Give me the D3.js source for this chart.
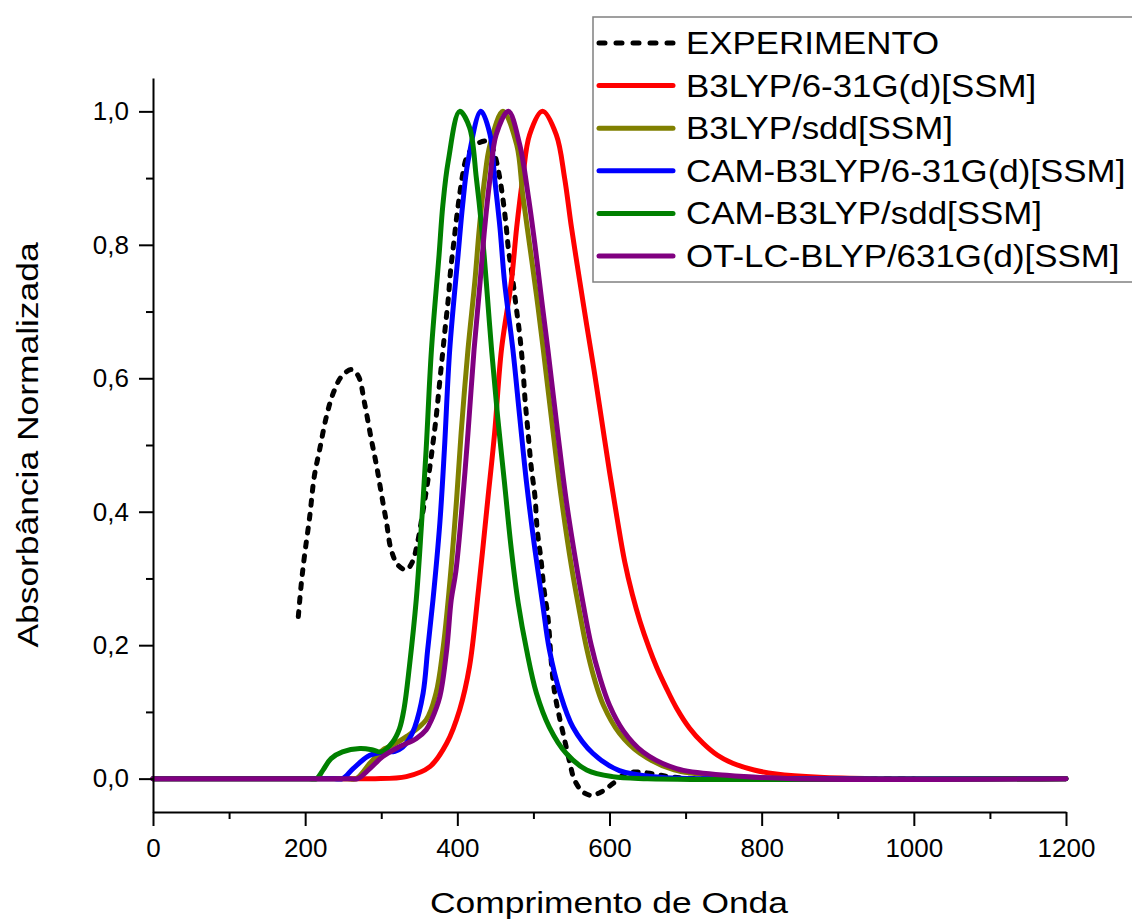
<!DOCTYPE html>
<html>
<head>
<meta charset="utf-8">
<script src="https://cdn.jsdelivr.net/npm/d3@7"></script>
<style>
  html, body { margin: 0; padding: 0; background: #fff; }
  svg { display: block; }
  text { font-family: Arial, 'Liberation Sans', sans-serif; fill: #000; }
</style>
</head>
<body>
<div id="chart"></div>
<script>
// ── Data ────────────────────────────────────────────────────
const xMajorTicks = [0, 200, 400, 600, 800, 1000, 1200];
const xMinorTicks = [100, 300, 500, 700, 900, 1100];
const yMajorTicks = [0, 0.2, 0.4, 0.6, 0.8, 1.0];
const yMinorTicks = [0.1, 0.3, 0.5, 0.7, 0.9];

// [wavelength, normalised absorbance]
const experimento = [
  [191, 0.243], [195, 0.293], [199, 0.333], [206, 0.393], [212, 0.453], [219, 0.493],
  [228, 0.543], [237, 0.578], [248, 0.603], [261, 0.613], [270, 0.603], [278, 0.563],
  [287, 0.508], [294, 0.468], [300, 0.428], [307, 0.383], [313, 0.343], [322, 0.320],
  [333, 0.313], [341, 0.325], [347, 0.350], [354, 0.395], [359, 0.430], [364, 0.468],
  [368, 0.503], [372, 0.540], [376, 0.585], [380, 0.630], [384, 0.675], [388, 0.718],
  [391, 0.760], [395, 0.800], [399, 0.840], [403, 0.875], [407, 0.905], [412, 0.930],
  [424, 0.950], [441, 0.955], [449, 0.935], [455, 0.905], [460, 0.868], [464, 0.830],
  [467, 0.795], [472, 0.755], [477, 0.710], [482, 0.665], [486, 0.618], [489, 0.568],
  [493, 0.518], [497, 0.468], [502, 0.423], [505, 0.373], [510, 0.328], [514, 0.283],
  [519, 0.243], [524, 0.168], [528, 0.128], [534, 0.093], [541, 0.058], [548, 0.023],
  [554, -0.002], [565, -0.020], [576, -0.025], [589, -0.020], [605, -0.007], [622, 0.008],
  [637, 0.010], [653, 0.008], [679, 0.003], [720, 0.000], [1000, 0.000]
];

const b3lyp631g = [
  [0, 0], [250, 0], [280, 0], [292, 0], [333, 0.003], [364, 0.018], [386, 0.053],
  [403, 0.103], [416, 0.168], [428, 0.285], [440, 0.418], [449, 0.518], [458, 0.643],
  [471, 0.745], [478, 0.826], [486, 0.900], [495, 0.965], [512, 1.000], [530, 0.965],
  [541, 0.900], [550, 0.826], [561, 0.745], [570, 0.680], [580, 0.610], [590, 0.535],
  [600, 0.460], [610, 0.390], [620, 0.325], [630, 0.276], [640, 0.236], [652, 0.196],
  [662, 0.167], [675, 0.135], [688, 0.106], [705, 0.076], [723, 0.053], [742, 0.035],
  [762, 0.023], [790, 0.013], [819, 0.007], [876, 0.002], [950, 0], [1200, 0]
];

const b3lypSdd = [
  [0, 0], [230, 0], [255, 0], [267, 0], [285, 0.023], [302, 0.043], [311, 0.048],
  [333, 0.063], [359, 0.088], [372, 0.128], [381, 0.193], [389, 0.280], [399, 0.418],
  [405, 0.518], [414, 0.643], [423, 0.745], [429, 0.826], [436, 0.900], [443, 0.950],
  [460, 1.000], [478, 0.950], [486, 0.875], [495, 0.800], [504, 0.725], [513, 0.643],
  [526, 0.518], [537, 0.418], [550, 0.318], [559, 0.260], [570, 0.195], [580, 0.150],
  [592, 0.110], [613, 0.068], [640, 0.038], [685, 0.013], [750, 0.004], [850, 0], [1200, 0]
];

const camB3lyp631g = [
  [0, 0], [215, 0], [238, 0], [249, 0], [263, 0.015], [285, 0.035], [307, 0.040],
  [318, 0.041], [328, 0.047], [336, 0.058], [344, 0.077], [355, 0.128], [361, 0.193],
  [368, 0.268], [377, 0.383], [383, 0.493], [390, 0.643], [401, 0.785], [407, 0.860],
  [414, 0.925], [431, 1.000], [443, 0.965], [449, 0.900], [456, 0.826], [462, 0.745],
  [473, 0.643], [482, 0.542], [491, 0.443], [502, 0.343], [512, 0.263], [521, 0.193],
  [535, 0.128], [552, 0.077], [578, 0.038], [613, 0.012], [666, 0.002], [720, 0], [1200, 0]
];

const camB3lypSdd = [
  [0, 0], [180, 0], [205, 0], [215, 0], [223, 0.012], [234, 0.030], [249, 0.040],
  [272, 0.045], [289, 0.043], [300, 0.040], [315, 0.055], [324, 0.075], [330, 0.105],
  [337, 0.168], [346, 0.268], [353, 0.383], [359, 0.493], [366, 0.643], [376, 0.785],
  [381, 0.860], [388, 0.925], [403, 1.000], [416, 0.976], [425, 0.900], [432, 0.826],
  [438, 0.745], [445, 0.643], [453, 0.542], [462, 0.443], [471, 0.343], [480, 0.263],
  [491, 0.193], [504, 0.128], [521, 0.077], [543, 0.038], [570, 0.013], [604, 0.003],
  [650, 0], [1200, 0]
];

const otLcBlyp = [
  [0, 0], [230, 0], [258, 0], [269, 0], [285, 0.015], [302, 0.033], [324, 0.048],
  [346, 0.060], [359, 0.073], [366, 0.088], [377, 0.123], [386, 0.193], [392, 0.268],
  [398, 0.310], [407, 0.418], [414, 0.518], [422, 0.643], [430, 0.745], [436, 0.826],
  [443, 0.900], [451, 0.965], [467, 1.000], [482, 0.950], [493, 0.875], [502, 0.800],
  [510, 0.725], [519, 0.643], [532, 0.518], [543, 0.418], [555, 0.330], [566, 0.258],
  [576, 0.200], [587, 0.153], [600, 0.110], [618, 0.072], [644, 0.040], [688, 0.015],
  [754, 0.005], [841, 0], [1200, 0]
];

const seriesNames  = ['EXPERIMENTO', 'B3LYP/6-31G(d)[SSM]', 'B3LYP/sdd[SSM]',
                      'CAM-B3LYP/6-31G(d)[SSM]', 'CAM-B3LYP/sdd[SSM]', 'OT-LC-BLYP/631G(d)[SSM]'];
const seriesColors = ['#000000', '#ff0000', '#808000', '#0000ff', '#008000', '#800080'];
const seriesData   = [experimento, b3lyp631g, b3lypSdd, camB3lyp631g, camB3lypSdd, otLcBlyp];

// ── Layout ──────────────────────────────────────────────────
const width = 1132, height = 920;
const plot = { left: 153, right: 1066, top: 78, bottom: 812 };

const svg = d3.select('#chart').append('svg')
  .attr('width', width)
  .attr('height', height);

const x = d3.scaleLinear().domain([0, 1200]).range([plot.left, plot.right]);
const y = d3.scaleLinear().domain([-0.05, 1.05]).range([plot.bottom, plot.top]);

const fmt = d => d3.format('.1f')(d).replace('.', ',');

// ── Curves ──────────────────────────────────────────────────
const line = d3.line()
  .x(d => x(d[0]))
  .y(d => y(d[1]))
  .curve(d3.curveCatmullRom.alpha(0.5));

const curvesG = svg.append('g');
seriesData.forEach((data, i) => {
  curvesG.append('path')
    .datum(data)
    .attr('fill', 'none')
    .attr('stroke', seriesColors[i])
    .attr('stroke-width', 5)
    .attr('stroke-linejoin', 'round')
    .attr('stroke-linecap', 'round')
    .attr('stroke-dasharray', i === 0 ? '5 9' : null)
    .attr('d', line);
});

// ── Axes ────────────────────────────────────────────────────
function styleAxis(ax) {
  ax.selectAll('path, line').attr('stroke', '#000').attr('stroke-width', 2);
  ax.selectAll('text').attr('font-size', 26).attr('fill', '#000')
    .attr('font-family', "Arial, 'Liberation Sans', sans-serif");
}

svg.append('g')
  .attr('transform', `translate(${plot.left},0)`)
  .call(d3.axisLeft(y).tickValues(yMinorTicks).tickSize(7).tickFormat(''))
  .call(ax => ax.select('.domain').remove())
  .call(styleAxis);

svg.append('g')
  .attr('transform', `translate(${plot.left},0)`)
  .call(d3.axisLeft(y).tickValues(yMajorTicks).tickSize(14).tickSizeOuter(0)
    .tickPadding(10).tickFormat(fmt))
  .call(styleAxis);

svg.append('g')
  .attr('transform', `translate(0,${plot.bottom})`)
  .call(d3.axisBottom(x).tickValues(xMinorTicks).tickSize(7).tickFormat(''))
  .call(ax => ax.select('.domain').remove())
  .call(styleAxis);

svg.append('g')
  .attr('transform', `translate(0,${plot.bottom})`)
  .call(d3.axisBottom(x).tickValues(xMajorTicks).tickSize(14).tickSizeOuter(0)
    .tickPadding(13).tickFormat(d3.format('d')))
  .call(styleAxis);

// Axis titles
svg.append('g')
  .attr('transform', 'translate(609,913)')
  .append('text')
  .attr('transform', 'scale(1.18,1)')
  .attr('text-anchor', 'middle')
  .attr('font-size', 30)
  .text('Comprimento de Onda');

svg.append('g')
  .attr('transform', 'translate(38,445) rotate(-90)')
  .append('text')
  .attr('transform', 'scale(1.18,1)')
  .attr('text-anchor', 'middle')
  .attr('font-size', 30)
  .text('Absorbância Normalizada');

// ── Legend ──────────────────────────────────────────────────
const legendG = svg.append('g');
legendG.append('rect')
  .attr('x', 593).attr('y', 17)
  .attr('width', 560).attr('height', 265)
  .attr('fill', '#fff')
  .attr('stroke', '#808080')
  .attr('stroke-width', 1.5);

seriesNames.forEach((name, i) => {
  const cy = 43 + i * 42.6;
  legendG.append('line')
    .attr('x1', 599).attr('x2', 673)
    .attr('y1', cy).attr('y2', cy)
    .attr('stroke', seriesColors[i])
    .attr('stroke-width', 5)
    .attr('stroke-linecap', 'round')
    .attr('stroke-dasharray', i === 0 ? '6 11' : null);
  legendG.append('g')
    .attr('transform', `translate(686,${cy + 11})`)
    .append('text')
    .attr('transform', 'scale(1.09,1)')
    .attr('font-size', 32)
    .text(name);
});
</script>
</body>
</html>
